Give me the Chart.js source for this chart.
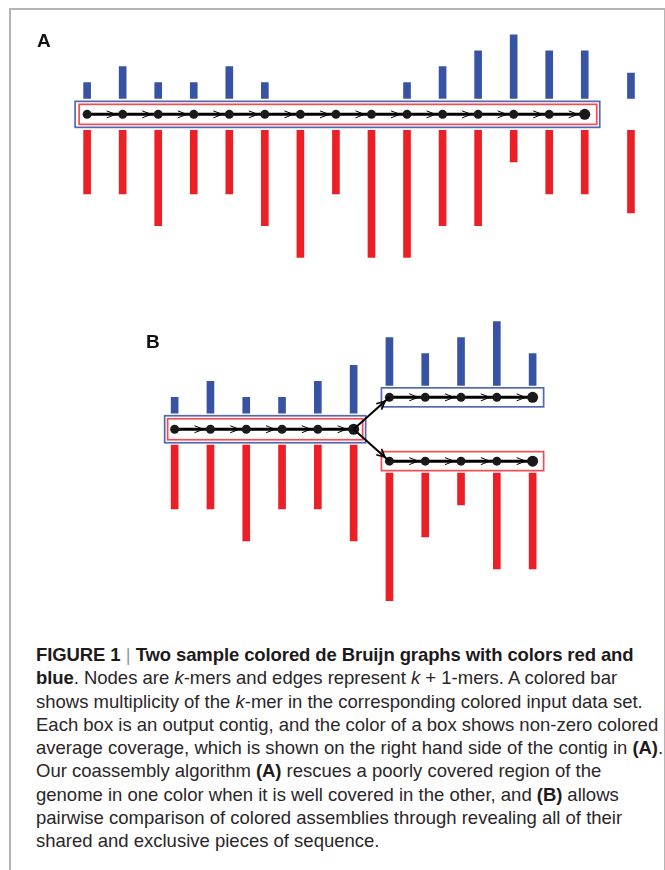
<!DOCTYPE html>
<html>
<head>
<meta charset="utf-8">
<script src="https://cdn.jsdelivr.net/npm/chart.js@4/dist/chart.umd.min.js"></script>
<style>
  body { margin:0; background:#fff; }
  #page { position:relative; width:665px; height:870px; overflow:hidden; }
  #frame { position:absolute; left:9px; top:8px; width:653px; height:900px;
           border:2px solid #b4b4b4; }
  canvas { position:absolute; left:0; }
  .lbl { position:absolute; font:bold 19px "Liberation Sans", Arial, sans-serif; color:#111; }
  #caption { position:absolute; left:36px; top:643px; font-family:"Liberation Sans", Arial, sans-serif;
             font-size:18.5px; line-height:23.3px; color:#2a2627; white-space:nowrap; letter-spacing:0px; }
  #caption b { letter-spacing:-0.1px; color:#1e1a1b; }
  .bar { color:#999; font-weight:normal; }
</style>
</head>
<body>
<div id="page">
  <div id="frame"></div>
  <canvas id="chartA" width="665" height="300" style="top:0"></canvas>
  <canvas id="chartB" width="665" height="330" style="top:300px"></canvas>
  <div class="lbl" style="left:37px;top:30px">A</div>
  <div class="lbl" style="left:146px;top:331px">B</div>
  <div id="caption">
    <b>FIGURE 1</b> <span class="bar">|</span> <b>Two sample colored de Bruijn graphs with colors red and</b><br>
    <b>blue</b>. Nodes are <i>k</i>-mers and edges represent <i>k</i> + 1-mers. A colored bar<br>
    shows multiplicity of the <i>k</i>-mer in the corresponding colored input data set.<br>
    Each box is an output contig, and the color of a box shows non-zero colored<br>
    average coverage, which is shown on the right hand side of the contig in <b>(A)</b>.<br>
    Our coassembly algorithm <b>(A)</b> rescues a poorly covered region of the<br>
    genome in one color when it is well covered in the other, and <b>(B)</b> allows<br>
    pairwise comparison of colored assemblies through revealing all of their<br>
    shared and exclusive pieces of sequence.
  </div>
</div>
<script>
//k-mer multiplicities (one value per node)
const blueA = [1,2,1,1,2,1,0,0,0,1,2,3,4,3,3];
const redA  = [4,4,6,4,4,6,8,4,8,8,6,6,2,4,4];
//average coverage shown right of the contig in A
const avgBlueA = 1.6;
const avgRedA  = 5.2;

//panel B: shared contig, then the blue-only and red-only branches
const blueBleft = [1,2,1,1,2,3];
const redBleft  = [4,4,6,4,4,6];
const blueBup   = [3,2,3,4,2];
const redBlow   = [8,4,2,6,6];

const BLUE = '#3953a4';
const RED = '#ec1f26';
const BOXBLUE = '#5468b2';
const BOXRED = '#ef4d52';

//bars go up (blue) or down (red) from a gap next to the path
function upBars(vals, x0, base){
    let out = [];
    for (let i=0;i<vals.length;i++){
        if (vals[i]>0) out.push({x:x0+i, y:[base, base+vals[i]]});
    }
    return out;
}
function downBars(vals, x0, base){
    let out = [];
    for (let i=0;i<vals.length;i++){
        if (vals[i]>0) out.push({x:x0+i, y:[base, base-vals[i]]});
    }
    return out;
}
function pathData(n, x0, y){
    let out = [];
    for (let i=0;i<n;i++) out.push({x:x0+i, y:y});
    return out;
}
function barSet(data, color){
    return {type:'bar', data:data, backgroundColor:color, barThickness:7, grouped:false, borderWidth:0, order:2};
}
function pathSet(data){
    let radii = data.map((p,i)=> i==data.length-1 ? 5.5 : 4.5);
    return {type:'line', data:data, borderColor:'#000', borderWidth:3, pointRadius:radii,
            pointBackgroundColor:'#1a1a1a', pointBorderWidth:0, order:1};
}

//draws the contig boxes and the small ">" marks on the edges
function contigPlugin(contigs, branches){
    return {
        id:'contigs',
        beforeDatasetsDraw(chart){
            const ctx = chart.ctx, xs = chart.scales.x, ys = chart.scales.y;
            ctx.save();
            contigs.forEach(c=>{
                const x1 = xs.getPixelForValue(c.start), x2 = xs.getPixelForValue(c.end);
                const y = ys.getPixelForValue(c.y);
                c.boxes.forEach(b=>{
                    ctx.strokeStyle = b.color;
                    ctx.lineWidth = 1.7;
                    ctx.strokeRect(x1-b.l, y-b.v, (x2+b.r)-(x1-b.l), 2*b.v);
                });
            });
            ctx.restore();
        },
        afterDatasetsDraw(chart){
            const ctx = chart.ctx, xs = chart.scales.x, ys = chart.scales.y;
            ctx.save();
            ctx.strokeStyle = '#000';
            ctx.lineWidth = 1;
            contigs.forEach(c=>{
                const y = ys.getPixelForValue(c.y);
                for (let i=c.start+1;i<=c.end;i++){
                    const tip = xs.getPixelForValue(i)-7;
                    ctx.beginPath();
                    ctx.moveTo(tip-9, y-3.5);
                    ctx.lineTo(tip, y);
                    ctx.lineTo(tip-9, y+3.5);
                    ctx.stroke();
                }
            });
            //arrow heads of the branch edges
            (branches||[]).forEach(br=>{
                const ax = xs.getPixelForValue(br[0].x), ay = ys.getPixelForValue(br[0].y);
                const bx = xs.getPixelForValue(br[1].x), by = ys.getPixelForValue(br[1].y);
                const ang = Math.atan2(by-ay, bx-ax);
                const tx = bx-6*Math.cos(ang), ty = by-6*Math.sin(ang);
                ctx.lineWidth = 1.6;
                ctx.beginPath();
                ctx.moveTo(tx-9*Math.cos(ang-0.45), ty-9*Math.sin(ang-0.45));
                ctx.lineTo(tx, ty);
                ctx.lineTo(tx-9*Math.cos(ang+0.45), ty-9*Math.sin(ang+0.45));
                ctx.stroke();
            });
            ctx.restore();
        }
    };
}

function baseOptions(xmin, xmax, ymin, ymax){
    return {
        responsive:false,
        animation:false,
        devicePixelRatio:1,
        layout:{padding:0},
        plugins:{legend:{display:false}, tooltip:{enabled:false}},
        scales:{
            x:{type:'linear', min:xmin, max:xmax, display:false, offset:false},
            y:{type:'linear', min:ymin, max:ymax, display:false}
        }
    };
}

//Panel A: one contig of 15 nodes, path at y=0
const contigsA = [{start:0, end:14, y:0, boxes:[
    {color:BOXBLUE, l:12, r:15, v:13},
    {color:BOXRED, l:8, r:12, v:10}
]}];
new Chart(document.getElementById('chartA'), {
    type:'bar',
    data:{datasets:[
        barSet(upBars(blueA,0,1), BLUE),
        barSet(downBars(redA,0,-1), RED),
        barSet([{x:15.3, y:[1,1+avgBlueA]}], BLUE),
        barSet([{x:15.3, y:[-1,-1-avgRedA]}], RED),
        pathSet(pathData(15,0,0))
    ]},
    options:baseOptions(-2.2964, 16.103, -11.333, 6.848),
    plugins:[contigPlugin(contigsA)]
});

//Panel B: shared contig (0..5) that splits into a blue (y=2) and a red (y=-2) contig
const contigsB = [
    {start:0, end:5, y:0, boxes:[{color:BOXBLUE, l:10, r:12, v:13.5},{color:BOXRED, l:7, r:9, v:10.5}]},
    {start:6, end:10, y:2, boxes:[{color:BOXBLUE, l:8, r:11, v:9.5}]},
    {start:6, end:10, y:-2, boxes:[{color:BOXRED, l:8, r:11, v:9.5}]}
];
const branchUp = [{x:5,y:0},{x:6,y:2}];
const branchLow = [{x:5,y:0},{x:6,y:-2}];
function branchSet(data){
    return {type:'line', data:data, borderColor:'#000', borderWidth:2, pointRadius:0, order:1};
}
new Chart(document.getElementById('chartB'), {
    type:'bar',
    data:{datasets:[
        barSet(upBars(blueBleft,0,1), BLUE),
        barSet(downBars(redBleft,0,-1), RED),
        barSet(upBars(blueBup,6,2.75), BLUE),
        barSet(downBars(redBlow,6,-2.75), RED),
        branchSet(branchUp),
        branchSet(branchLow),
        pathSet(pathData(6,0,0)),
        pathSet(pathData(5,6,2)),
        pathSet(pathData(5,6,-2))
    ]},
    options:baseOptions(-4.725, 13.544, -12.242, 7.758),
    plugins:[contigPlugin(contigsB, [branchUp, branchLow])]
});
</script>
</body>
</html>
